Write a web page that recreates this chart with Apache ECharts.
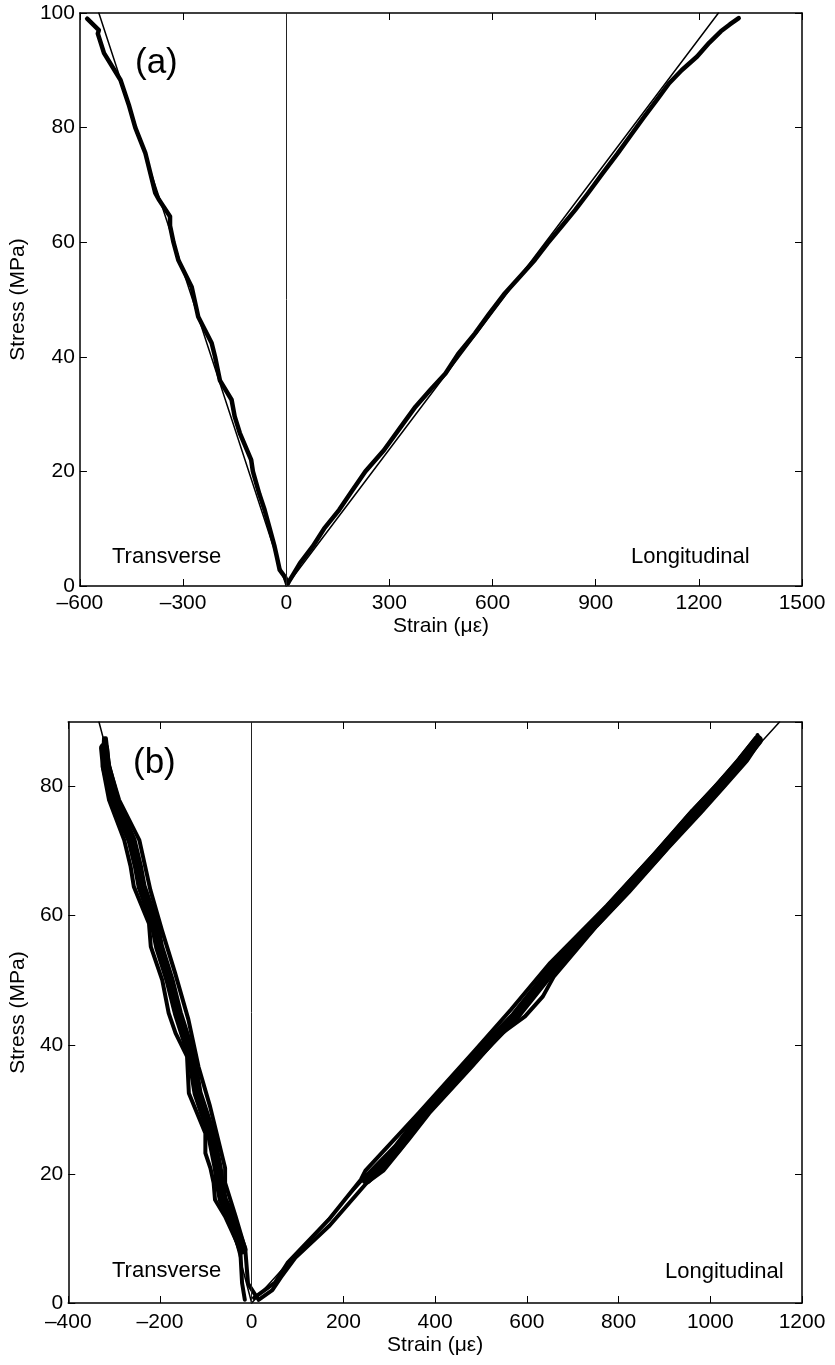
<!DOCTYPE html>
<html>
<head>
<meta charset="utf-8">
<title>Stress vs strain</title>
<script src="https://cdn.jsdelivr.net/npm/echarts@6/dist/echarts.min.js"></script>
<style>
  html, body { margin: 0; padding: 0; background: #fff; }
  #main { width: 835px; height: 1365px; }
</style>
</head>
<body>
<div id="main"></div>
<script>
// (a) transverse / longitudinal, one loading
const topTransStress = [0.5, 1.5, 2.8, 5, 6.9, 10, 13.3, 16, 20, 22, 26.7, 29.6, 32.5, 35.9, 40, 42.4, 47, 52.2, 56.9, 60, 62.9, 64.5, 67.5, 68.6, 72, 75.6, 80, 84, 88.3, 93, 96.4, 97, 99];
const topTransStrain = [5, -3, -19, -27, -34, -48, -63, -78, -97, -102, -135, -150, -159, -193, -207, -217, -256, -275, -314, -328, -338, -338, -371, -381, -395, -410, -439, -458, -482, -530, -548, -545, -579];

const topLongStress = [0.5, 2, 4, 6.9, 10, 13.3, 16.5, 20, 23.7, 27.5, 31.3, 34.3, 37.1, 40.5, 44.1, 47.5, 51.1, 54, 56.9, 59.8, 62.7, 65.6, 68.5, 72, 75.5, 78.5, 81.8, 85, 87.7, 90, 92.4, 94.8, 96.8, 98, 99.1];
const topLongStrain = [5, 20, 40, 77, 110, 154, 190, 230, 284, 330, 376, 420, 463, 500, 549, 590, 636, 680, 723, 760, 800, 840, 877, 920, 964, 1000, 1040, 1080, 1113, 1150, 1195, 1230, 1264, 1290, 1316];

const topFitStrain = [-545, 0, 1257];
const topFitStress = [100, 0, 100];

// (b) several cycles: band edges and band middle
const botTransLeftStress = [0.5, 3.1, 8.3, 13.4, 16, 18.6, 20.9, 23.2, 26.3, 32.5, 38.2, 41.8, 44.9, 50, 55.2, 58.8, 64.5, 67.6, 71.7, 77.9, 83.1, 87.5];
const botTransLeftStrain = [-15, -21, -25, -58, -80, -83, -90, -101, -101, -137, -141, -166, -181, -195, -220, -224, -257, -264, -278, -311, -325, -322];

const botTransMidStress = [8.3, 13.4, 16, 18.6, 20.9, 26.3, 32.5, 38.2, 44.9, 50, 55.2, 58.8, 64.5, 67.6, 71.7, 77.9, 83.1, 86];
const botTransMidStrain = [-20, -46, -63, -70, -74, -89, -118, -131, -161, -179, -202, -212, -240, -248, -262, -300, -318, -322];

const botTransRightStress = [0.8, 3, 8.3, 13.4, 18.6, 20.9, 30.5, 36.6, 43.9, 51.1, 57.8, 64, 71.7, 77.9, 83.1, 87.5];
const botTransRightStrain = [12, -8, -14, -35, -58, -58, -91, -116, -138, -167, -196, -221, -245, -289, -311, -318];

const botLongUpStress = [0.8, 3.1, 6.2, 12.9, 19.1, 20.5, 29.4, 39.2, 45.5, 52.7, 61.6, 69.4, 75.5, 80, 84, 87.6];
const botLongUpStrain = [5, 50, 78, 168, 238, 248, 364, 488, 566, 651, 775, 876, 952, 1010, 1060, 1100];

const botLongMidStress = [19.1, 24, 29.4, 36.6, 44.4, 52.7, 61.6, 69.4, 76, 80, 84, 87.2];
const botLongMidStrain = [250, 318, 376, 467, 574, 667, 785, 885, 966, 1020, 1068, 1104];

const botLongLowStress = [0.5, 2, 4, 7, 12, 18.7, 20.5, 25.2, 29.4, 36.6, 41.6, 44.4, 47.5, 50.6, 58.4, 63.6, 70.4, 76, 80, 84, 86.7, 88];
const botLongLowStrain = [15, 45, 64, 95, 170, 252, 287, 341, 387, 480, 542, 596, 635, 659, 752, 822, 907, 980, 1030, 1080, 1105, 1103];

const botFitStrain = [-333, 0, 1151];
const botFitStress = [90, 0, 90];

function pairs(strain, stress) {
  return strain.map((s, i) => [s, stress[i]]);
}

const font = "'Liberation Sans', Arial, Helvetica, sans-serif";
const dash = v => String(v).replace('-', '\u2013');

function xAx(grid, min, max, interval, bottom) {
  return {
    type: 'value', gridIndex: grid, min: min, max: max, interval: interval,
    position: bottom ? 'bottom' : 'top',
    name: bottom ? 'Strain (\u03bc\u03b5)' : '',
    nameLocation: 'middle', nameGap: grid === 0 ? 30 : 32,
    nameTextStyle: { color: '#000', fontSize: 21, fontFamily: font },
    axisLine: { onZero: false, lineStyle: { color: '#000', width: 1.5 } },
    axisTick: { inside: true, length: 7, lineStyle: { color: '#000', width: 1 } },
    axisLabel: { show: bottom, color: '#000', fontSize: 21, fontFamily: font, margin: grid === 0 ? 7 : 9, formatter: dash },
    splitLine: { show: false }
  };
}

function yAx(grid, max, left) {
  return {
    type: 'value', gridIndex: grid, min: 0, max: max, interval: 20,
    position: left ? 'left' : 'right',
    name: left ? 'Stress (MPa)' : '',
    nameLocation: 'middle', nameGap: grid === 0 ? 48 : 36,
    nameTextStyle: { color: '#000', fontSize: 21, fontFamily: font },
    axisLine: { onZero: false, lineStyle: { color: '#000', width: 1.5 } },
    axisTick: { inside: true, length: 7, lineStyle: { color: '#000', width: 1 } },
    axisLabel: { show: left, color: '#000', fontSize: 21, fontFamily: font, margin: 5, showMaxLabel: max === 100 },
    splitLine: { show: false }
  };
}

function dataLine(xi, data, w) {
  return {
    type: 'line', xAxisIndex: xi, yAxisIndex: xi, data: data,
    showSymbol: false, smooth: false, clip: true,
    lineStyle: { color: '#000', width: w, join: 'round', cap: 'round' },
    silent: true, animation: false
  };
}

function fitLine(xi, data) {
  const s = dataLine(xi, data, 1.5);
  s.markLine = {
    silent: true, symbol: 'none', animation: false,
    label: { show: false },
    lineStyle: { color: '#222', width: 1, type: 'solid' },
    data: [{ xAxis: 0 }]
  };
  return s;
}

const chart = echarts.init(document.getElementById('main'), null, { renderer: 'canvas' });

chart.setOption({
  backgroundColor: '#fff',
  animation: false,
  grid: [
    { left: 76, top: 13, width: 726, height: 573 },
    { left: 64, top: 722, width: 738, height: 581 }
  ],
  xAxis: [
    xAx(0, -600, 1500, 300, true),
    xAx(0, -600, 1500, 300, false),
    xAx(1, -400, 1200, 200, true),
    xAx(1, -400, 1200, 200, false)
  ],
  yAxis: [
    yAx(0, 100, true),
    yAx(0, 100, false),
    yAx(1, 90, true),
    yAx(1, 90, false)
  ],
  series: [
    fitLine(0, pairs(topFitStrain, topFitStress)),
    dataLine(0, pairs(topTransStrain, topTransStress), 4.5),
    dataLine(0, pairs(topLongStrain, topLongStress), 4.5),

    fitLine(2, pairs(botFitStrain, botFitStress)),
    dataLine(2, pairs(botTransLeftStrain, botTransLeftStress), 4),
    dataLine(2, pairs(botTransMidStrain, botTransMidStress), 10),
    dataLine(2, pairs(botTransRightStrain, botTransRightStress), 4),
    dataLine(2, pairs(botLongUpStrain, botLongUpStress), 4),
    dataLine(2, pairs(botLongMidStrain, botLongMidStress), 10),
    dataLine(2, pairs(botLongLowStrain, botLongLowStress), 4)
  ],
  graphic: [
    { type: 'text', left: 135, top: 46, style: { text: '(a)', fontSize: 35, fontFamily: font, fill: '#000' } },
    { type: 'text', left: 112, top: 546, style: { text: 'Transverse', fontSize: 22, fontFamily: font, fill: '#000' } },
    { type: 'text', left: 631, top: 546, style: { text: 'Longitudinal', fontSize: 22, fontFamily: font, fill: '#000' } },
    { type: 'text', left: 133, top: 746, style: { text: '(b)', fontSize: 35, fontFamily: font, fill: '#000' } },
    { type: 'text', left: 112, top: 1260, style: { text: 'Transverse', fontSize: 22, fontFamily: font, fill: '#000' } },
    { type: 'text', left: 665, top: 1261, style: { text: 'Longitudinal', fontSize: 22, fontFamily: font, fill: '#000' } }
  ]
});
</script>
</body>
</html>
